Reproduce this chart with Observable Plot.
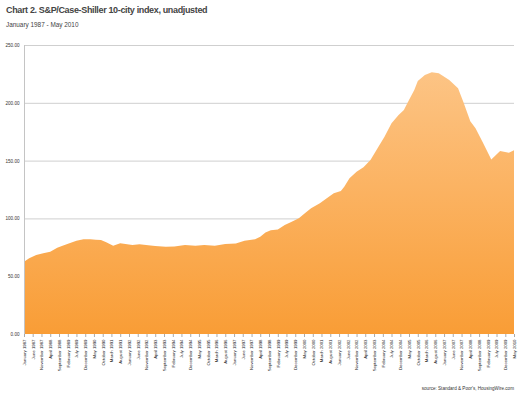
<!DOCTYPE html>
<html>
<head>
<meta charset="utf-8">
<script src="https://cdn.jsdelivr.net/npm/d3@7"></script>
<script src="https://cdn.jsdelivr.net/npm/@observablehq/plot@0.6"></script>
<style>
  html, body { margin: 0; padding: 0; background: #fff; }
  #wrap { position: relative; width: 520px; height: 397px; font-family: "Liberation Sans", Arial, Helvetica, sans-serif; }
  #wrap svg { position: absolute; left: 0; top: 0; }
  .title { position: absolute; left: 6px; top: 5px; font-size: 9px; font-weight: bold; color: #444; letter-spacing: -0.35px; white-space: nowrap; }
  .subtitle { position: absolute; left: 6px; top: 21px; font-size: 6.4px; color: #444; white-space: nowrap; }
  .source { position: absolute; right: 6px; top: 386px; font-size: 4.6px; color: #333; white-space: nowrap; }
</style>
</head>
<body>
<div id="wrap">
  <div class="title">Chart 2. S&amp;P/Case-Shiller 10-city index, unadjusted</div>
  <div class="subtitle">January 1987 - May 2010</div>
  <div class="source">source: Standard &amp; Poor's, HousingWire.com</div>
</div>
<script>
// Index values (month, value)
const months = ["1987-01","1987-04","1987-08","1987-12","1988-04","1988-08","1988-11","1989-03","1989-07","1989-11",
  "1990-03","1990-06","1990-09","1990-12","1991-04","1991-08","1991-12","1992-03","1992-07","1992-12",
  "1993-04","1993-10","1994-03","1994-09","1995-03","1995-08","1996-02","1996-08","1997-02","1997-07",
  "1998-01","1998-04","1998-07","1998-10","1999-02","1999-06","1999-10","2000-02","2000-06","2000-09",
  "2001-02","2001-06","2001-10","2002-02","2002-04","2002-07","2002-11","2003-03","2003-07","2003-11",
  "2004-03","2004-07","2004-11","2005-02","2005-05","2005-08","2005-10","2006-02","2006-06","2006-10",
  "2007-04","2007-09","2007-12","2008-04","2008-07","2008-11","2009-04","2009-09","2010-02","2010-05"];
const values = [62.5,65.5,68.3,69.8,71.2,74.7,76.4,78.4,80.7,81.9,
  82.0,81.6,81.3,79.3,76.4,78.4,77.6,77.0,77.6,76.7,
  76.1,75.5,75.8,77.0,76.4,77.0,76.4,77.9,78.2,80.7,
  81.9,84.2,87.7,89.7,90.5,94.3,97.2,100.1,105.0,108.7,
  113.0,117.4,121.7,123.7,127.4,134.7,140.4,144.2,150.5,160.6,
  170.7,182.3,189.4,193.8,202.4,211.0,218.9,224.0,226.4,225.5,
  219.7,212.5,201.0,184.0,178.0,166.0,151.0,158.3,156.8,159.0];
const yTicks = [0, 50, 100, 150, 200, 250];
const firstMonth = "1987-01";
const lastMonth = "2010-05";
const tickEveryMonths = 5;

const parse = d3.utcParse("%Y-%m");
const data = months.map((m, i) => ({date: parse(m), value: values[i]}));
const start = parse(firstMonth), end = parse(lastMonth);
const nMonths = d3.utcMonth.count(start, end);
const xTicks = d3.range(0, nMonths + 1, tickEveryMonths).map(k => d3.utcMonth.offset(start, k));
const fmt = d3.utcFormat("%B %Y");

const chart = Plot.plot({
  width: 520,
  height: 397,
  marginTop: 45,
  marginBottom: 63,
  marginLeft: 24,
  marginRight: 6,
  style: {fontFamily: "'Liberation Sans', Arial, Helvetica, sans-serif", fontSize: "5px", background: "transparent", color: "#333"},
  x: {type: "utc", domain: [start, end], label: null},
  y: {domain: [0, 250], label: null},
  marks: [
    Plot.gridY(yTicks.filter(d => d > 0), {stroke: "#cfcfcf", strokeOpacity: 1, strokeWidth: 1}),
    Plot.areaY(data, {x: "date", y: "value", fill: "url(#areaGrad)", curve: "linear"}),
    Plot.ruleX([start], {stroke: "#c4c4c4", strokeWidth: 1}),
    Plot.axisY({ticks: yTicks, tickFormat: d => d.toFixed(2), tickSize: 0, tickPadding: 5, fontSize: 4.6, fill: "#333", label: null}),
    Plot.axisX({ticks: xTicks, tickFormat: fmt, tickRotate: -90, tickSize: 3, tickPadding: 2, fontSize: 4.3, fill: "#222", stroke: "#aaa", label: null})
  ]
});

const svg = d3.select(chart);
const defs = svg.insert("defs", ":first-child");
const grad = defs.append("linearGradient")
  .attr("id", "areaGrad")
  .attr("gradientUnits", "userSpaceOnUse")
  .attr("x1", 0).attr("x2", 0).attr("y1", 45).attr("y2", 334);
grad.append("stop").attr("offset", "0%").attr("stop-color", "#fdc88d");
grad.append("stop").attr("offset", "100%").attr("stop-color", "#f99d36");
svg.selectAll("g[aria-label='area'] path").attr("fill", "url(#areaGrad)");

document.getElementById("wrap").prepend(chart);
</script>
</body>
</html>
